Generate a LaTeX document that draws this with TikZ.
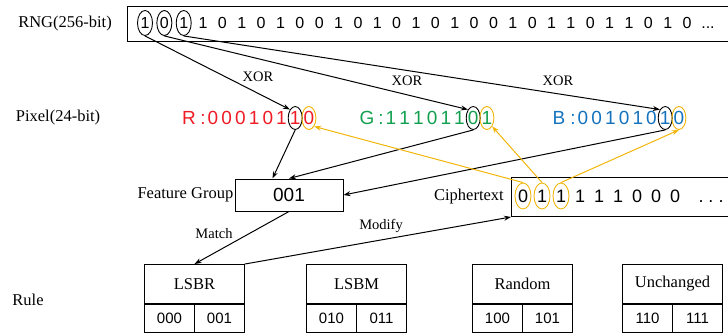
\documentclass[tikz,border=0pt]{standalone}
\usepackage{fontspec}
\setmainfont{Liberation Serif}
\newfontfamily\arialf{Liberation Sans}
\usetikzlibrary{shapes.geometric,arrows.meta,calc}
\definecolor{pxred}{HTML}{EE1C25}
\definecolor{pxgreen}{HTML}{12A04F}
\definecolor{pxblue}{HTML}{1573BE}
\definecolor{gold}{HTML}{F2B50A}

\begin{document}
\begin{tikzpicture}[x=1pt,y=-1pt,line cap=round]
	\tikzstyle{lbl}=[font=\fontsize{16.5}{18}\selectfont,inner sep=0pt];
	\tikzstyle{small}=[font=\fontsize{14.5}{16}\selectfont,inner sep=0pt];
	\tikzstyle{bit}=[font=\arialf\fontsize{16}{18}\selectfont,inner sep=0pt,text height=11.5pt,text depth=0pt];
	\tikzstyle{cbit}=[font=\arialf\fontsize{18}{20}\selectfont,inner sep=0pt,text height=13pt,text depth=0pt];
	\tikzstyle{pix}=[font=\arialf\fontsize{19}{21}\selectfont,inner sep=0pt,text height=13.6pt,text depth=0pt];
	\tikzstyle{ring}=[ellipse,draw,line width=0.9pt,minimum width=15pt,minimum height=25pt,inner sep=0pt];
	\tikzstyle{ringo}=[ring,draw=gold];
	\tikzstyle{box}=[draw,line width=1pt,inner sep=0pt];
	\tikzstyle{rulehead}=[box,font=\fontsize{16.5}{18}\selectfont,minimum width=100pt,minimum height=39pt];
	\tikzstyle{rulecell}=[box,font=\arialf\fontsize{15}{17}\selectfont,minimum width=50pt,minimum height=28pt];
	\tikzstyle{arr}=[line width=1pt,-{Stealth[length=7pt,width=5pt]}];
	\tikzstyle{arro}=[arr,draw=gold];

	\useasboundingbox (0,0) rectangle (728,332);

	% random number row
	\node[box,anchor=north west,minimum width=620pt,minimum height=35pt] (rngbox) at (127,6) {};
	\node[lbl,anchor=east] (rnglbl) at ($(rngbox.west)+(-15,0)$) {RNG(256-bit)};
	\foreach \d [count=\i] in {1,0,1,1,0,1,0,1,0,0,1,0,1,0,1,0,1,0,0,1,0,1,1,0,1,1,0,1,0}
		\node[bit] (b\i) at (145+19.36*\i-19.36,23) {\d};
	\node[bit] (bdots) at (708,23) {...};
	\foreach \i in {1,2,3}
		\node[ring] (o\i) at (b\i) {};

	% pixel channels
	\node[lbl] (pixlbl) at (58,118) {Pixel(24-bit)};
	\node[pix,pxred] at (189,118) {R};
	\node[pix,pxred] at (203,118) {:};
	\foreach \d [count=\j] in {0,0,0,1,0,1,1,0}
		\node[pix,pxred] (r\j) at (213+13.7*\j-13.7,118) {\d};
	\node[pix,pxgreen] at (367,118) {G};
	\node[pix,pxgreen] at (381,118) {:};
	\foreach \d [count=\j] in {1,1,1,0,1,1,0,1}
		\node[pix,pxgreen] (g\j) at (391+13.7*\j-13.7,118) {\d};
	\node[pix,pxblue] at (559,118) {B};
	\node[pix,pxblue] at (573,118) {:};
	\foreach \d [count=\j] in {0,0,1,0,1,0,1,0}
		\node[pix,pxblue] (u\j) at (583+13.7*\j-13.7,118) {\d};
	\node[ring,minimum width=14pt,minimum height=23pt] (rk) at (r7) {};
	\node[ringo,minimum width=14pt,minimum height=23pt] (rl) at (r8) {};
	\node[ring,minimum width=14pt,minimum height=23pt] (gk) at (g7) {};
	\node[ringo,minimum width=14pt,minimum height=23pt] (gl) at (g8) {};
	\node[ring,minimum width=14pt,minimum height=23pt] (bk) at (u7) {};
	\node[ringo,minimum width=14pt,minimum height=23pt] (bl) at (u8) {};

	% feature group and ciphertext
	\node[box,minimum width=108pt,minimum height=32pt,font=\arialf\fontsize{19}{21}\selectfont] (feat) at (289,195) {001};
	\node[lbl,anchor=east] (featlbl) at ($(feat.west)+(-1,0)$) {Feature Group};
	\node[box,anchor=north west,minimum width=230pt,minimum height=39pt] (cbox) at (511,177) {};
	\node[lbl,anchor=east] (cipherlbl) at ($(cbox.west)+(-7,0)$) {Ciphertext};
	\foreach \d [count=\i] in {0,1,1,1,1,1,0,0,0}
		\node[cbit] (c\i) at (523+19*\i-19,196) {\d};
	\node[cbit] (cdots) at (711,196) {.\ .\ .};
	\foreach \i in {1,2,3}
		\node[ringo,minimum width=16pt,minimum height=26pt] (q\i) at (c\i) {};

	% rules
	\node[lbl] (rulelbl) at (28,300) {Rule};
	\foreach \nm/\txt/\x/\a/\b in {lsbr/LSBR/144/000/001,lsbm/LSBM/306/010/011,rand/Random/472/100/101,unch/Unchanged/622/110/111}{
		\node[rulehead,anchor=north west] (\nm) at (\x,264) {\txt};
		\node[rulecell,anchor=north west] (\nm a) at (\nm.south west) {\a};
		\node[rulecell,anchor=north east] (\nm b) at (\nm.south east) {\b};
	}

	% connectors
	\draw[arr] (o1.south) -- (rk.north west);
	\draw[arr] (o2.south) -- (gk.north west);
	\draw[arr] (o3.south) -- (bk.north west);
	\node[small] at (258,77) {XOR};
	\node[small] at (407,81) {XOR};
	\node[small] at (558,81) {XOR};
	\draw[arr] (rk.south) -- (feat.135);
	\draw[arr] (gk.south) -- (feat.north);
	\draw[arr] (bk.south) -- (feat.east);
	\draw[arro] (q1.north) -- (rl.south east);
	\draw[arro] (q2.north) -- (gl.south east);
	\draw[arro] (q3.north) -- (bl.south);
	\draw[arr] (feat.south) -- (lsbr.north);
	\node[small] at (214,234) {Match};
	\draw[arr] (lsbr.north east) -- (cbox.south west);
	\node[small] at (381,226) {Modify};
\end{tikzpicture}
\end{document}
